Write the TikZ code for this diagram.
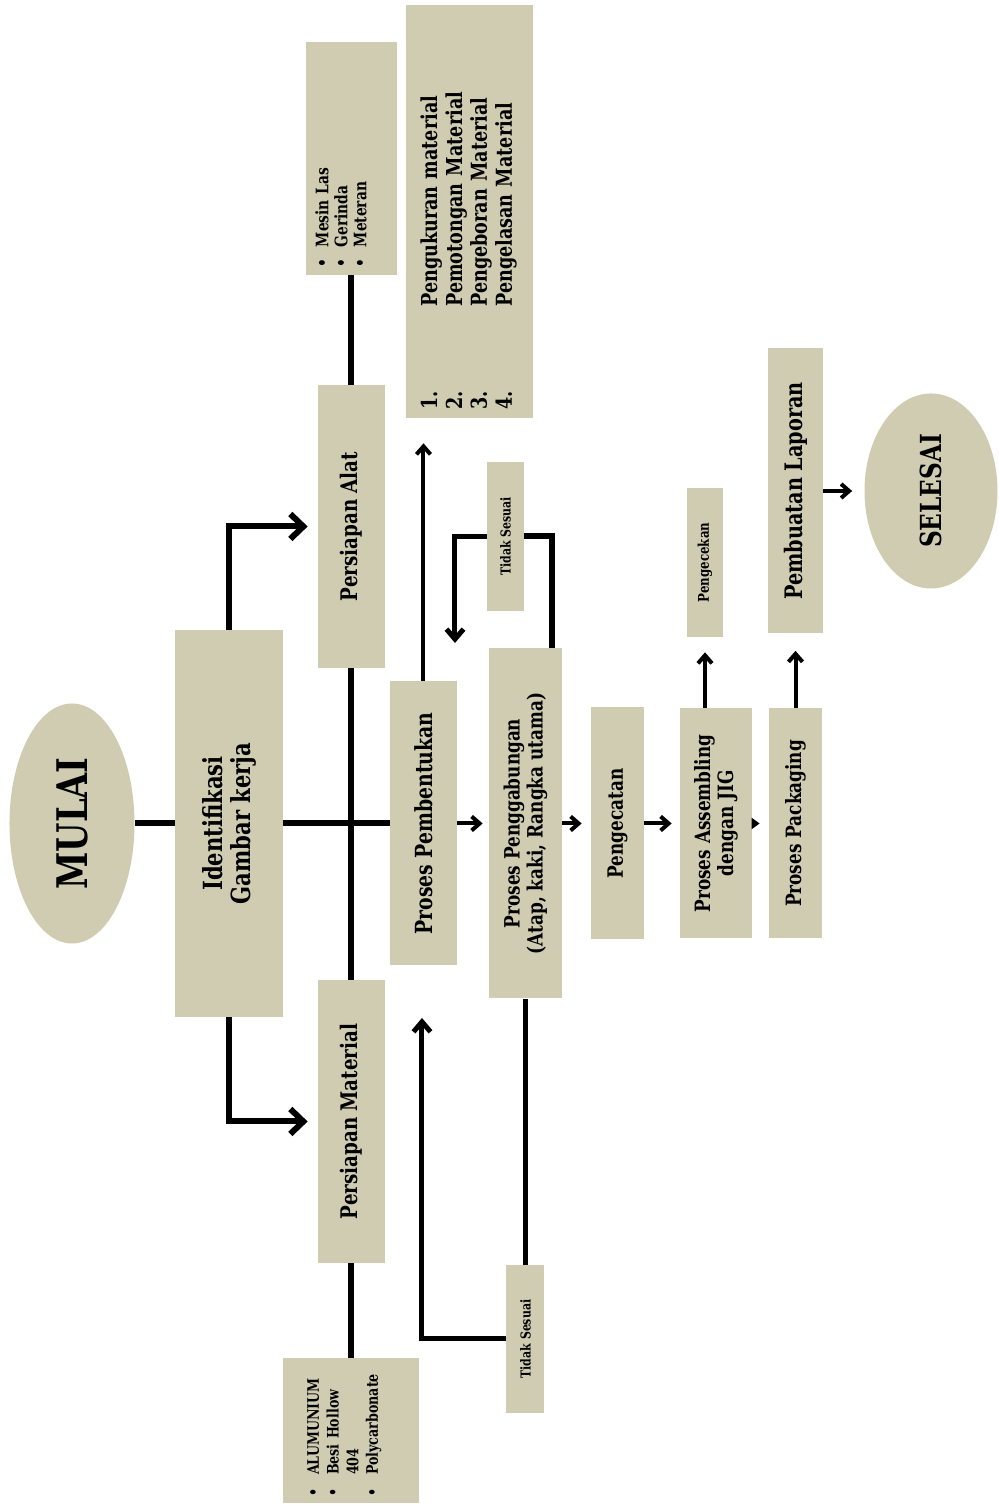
\documentclass[tikz,border=0pt]{standalone}
\usepackage{fontspec}
\setmainfont{DejaVu Serif}[FakeStretch=0.8]
\usetikzlibrary{arrows.meta,shapes.geometric}
\definecolor{khaki}{HTML}{CFCCB1}

\begin{document}
\begin{tikzpicture}[rotate=90, transform shape,
    box/.style={fill=khaki, inner sep=0pt, align=center},
    oval/.style={ellipse, fill=khaki, inner sep=0pt},
    link/.style={line width=1.2mm},
    flow/.style={line width=0.8mm, -{Straight Barb[length=1.6mm, width=2.8mm]}},
    branch/.style={line width=1.2mm, -{Straight Barb[length=2.6mm, width=5mm]}},
    back/.style={line width=1mm, -{Straight Barb[length=2mm, width=3.4mm]}}]
  \useasboundingbox (0,0) rectangle (30.12,19.96);

  % main line
  \node[oval, minimum width=4.8cm, minimum height=2.5cm,
        font=\bfseries\fontsize{24}{26}\selectfont] (mulai) at (13.65,18.52) {MULAI};
  \node[box, minimum width=7.74cm, minimum height=2.16cm,
        font=\bfseries\fontsize{15}{16}\selectfont] (ident) at (13.65,15.38) {Identifikasi\\Gambar kerja};
  \node[box, minimum width=5.68cm, minimum height=1.34cm,
        font=\bfseries\fontsize{13.4}{15}\selectfont] (pemb) at (13.65,11.49) {Proses Pembentukan};
  \node[box, minimum width=7cm, minimum height=1.46cm,
        font=\bfseries\fontsize{12}{13}\selectfont] (gabung) at (13.65,9.45) {Proses Penggabungan\\(Atap, kaki, Rangka utama)};
  \node[box, minimum width=4.64cm, minimum height=1.06cm,
        font=\bfseries\fontsize{12}{13}\selectfont] (cat) at (13.65,7.61) {Pengecatan};
  \node[box, minimum width=4.6cm, minimum height=1.44cm,
        font=\bfseries\fontsize{12}{13}\selectfont] (asm) at (13.65,5.64) {Proses Assembling\\dengan JIG};
  \node[box, minimum width=4.6cm, minimum height=1.06cm,
        font=\bfseries\fontsize{12}{13}\selectfont] (pack) at (13.65,4.05) {Proses Packaging};

  % persiapan
  \node[box, minimum width=5.66cm, minimum height=1.34cm,
        font=\bfseries\fontsize{13}{14}\selectfont] (alat) at (19.59,12.93) {Persiapan Alat};
  \node[box, minimum width=5.66cm, minimum height=1.34cm,
        font=\bfseries\fontsize{13}{14}\selectfont] (mat) at (7.69,12.93) {Persiapan Material};
  \node[box, minimum width=4.66cm, minimum height=1.82cm, text width=4.38cm, align=left,
        font=\bfseries\fontsize{9.8}{10.8}\selectfont] (alatlist) at (26.95,12.93)
    {\raisebox{1.6mm}[\height][\depth]{\begin{tabular}{@{}l@{\hspace{2.4mm}}l@{}}
      \textbullet & Mesin Las\\ \textbullet & Gerinda\\ \textbullet & Meteran
    \end{tabular}}};
  \node[box, minimum width=2.9cm, minimum height=2.72cm, text width=2.62cm, align=left,
        font=\bfseries\fontsize{9}{11.2}\selectfont] (bahan) at (1.51,12.93)
    {\raisebox{1.4mm}[\height][\depth]{\begin{tabular}{@{}l@{\hspace{2.6mm}}l@{}}
      \textbullet & ALUMUNIUM\\ \textbullet & Besi Hollow\\ & 404\\ \textbullet & Polycarbonate
    \end{tabular}}};
  \node[box, minimum width=8.26cm, minimum height=2.54cm, text width=7.94cm, align=left,
        font=\bfseries\fontsize{12.5}{14.2}\selectfont] (langkah) at (25.89,10.57)
    {\begin{tabular}{@{}l@{\hspace{1.7cm}}l@{}}
      1. & Pengukuran material\\ 2. & Pemotongan Material\\
      3. & Pengeboran Material\\ 4. & Pengelasan Material
    \end{tabular}};

  % checks and end
  \node[box, minimum width=2.98cm, minimum height=0.74cm,
        font=\bfseries\fontsize{7.8}{9}\selectfont] (tidak1) at (19.39,9.85) {Tidak Sesuai};
  \node[box, minimum width=2.96cm, minimum height=0.76cm,
        font=\bfseries\fontsize{7.8}{9}\selectfont] (tidak2) at (3.34,9.45) {Tidak Sesuai};
  \node[box, minimum width=2.98cm, minimum height=0.72cm,
        font=\bfseries\fontsize{8.4}{10}\selectfont] (cek) at (18.87,5.86) {Pengecekan};
  \node[box, minimum width=5.7cm, minimum height=1.1cm,
        font=\bfseries\fontsize{13.7}{15}\selectfont] (lapor) at (20.3,4.05) {Pembuatan Laporan};
  \node[oval, minimum width=3.9cm, minimum height=2.66cm,
        font=\bfseries\fontsize{16.5}{18}\selectfont] (selesai) at (20.3,1.34) {SELESAI};

  \coordinate (loopa) at (19.4,8.92);
  \coordinate (back1) at (17.26,10.86);
  \coordinate (back2) at (9.76,11.52);

  % connectors
  \draw[link] (mulai) -- (ident);
  \draw[link] (ident) -- (pemb);
  \draw[branch, shorten >=2mm] (ident) -| (alat);
  \draw[branch, shorten >=2mm] (ident) -| (mat);
  \draw[link] (alatlist) -- (alat);
  \draw[link] (alat) -- (mat);
  \draw[link] (mat) -- (bahan);
  \draw[flow, shorten >=5mm] (pemb.east) -- (langkah.west |- pemb.east);
  \draw[flow, shorten >=1.2mm] (pemb) -- (gabung);
  \draw[flow, shorten >=1.8mm] (gabung) -- (cat);
  \draw[flow, shorten >=1.6mm] (cat) -- (asm);
  \draw[line width=0.8mm, -{Triangle[length=1.6mm, width=2.2mm]}, shorten >=1.8mm] (asm) -- (pack);
  \draw[flow, shorten >=3mm] (asm.east |- cek) -- (cek.west);
  \draw[flow, shorten >=3.4mm] (pack) -- (lapor);
  \draw[flow, shorten >=2.4mm] (lapor) -- (selesai);
  \draw[link] (gabung.east |- loopa) -| (tidak1.south);
  \draw[back] (tidak1.north) |- (back1);
  \draw[line width=1mm] (gabung) -- (tidak2);
  \draw[back] (tidak2.north) |- (back2);
\end{tikzpicture}
\end{document}
